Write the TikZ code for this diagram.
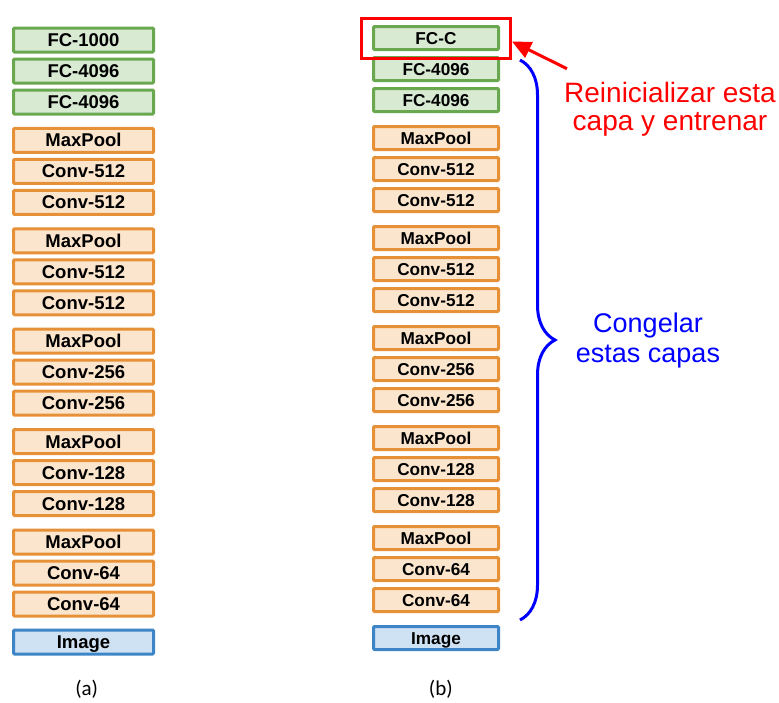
\documentclass[tikz,border=0pt]{standalone}
\usepackage{fontspec}
\setmainfont{Liberation Sans}
\newfontfamily\carlito{Carlito}
\usepackage{xcolor}
\usetikzlibrary{positioning}
\usetikzlibrary{arrows.meta,fit,decorations.pathreplacing}
\definecolor{fcfill}{HTML}{D9EAD3}
\definecolor{fcline}{HTML}{6AA84F}
\definecolor{convfill}{HTML}{FCE5CD}
\definecolor{convline}{HTML}{E69138}
\definecolor{imgfill}{HTML}{CFE2F3}
\definecolor{imgline}{HTML}{3D85C6}

\begin{document}
\begin{tikzpicture}[x=1pt,y=1pt,node distance=4pt,
    layer/.style={rectangle,rounded corners=1pt,line width=3pt,inner sep=0pt,
                  minimum width=140pt,minimum height=24pt,text height=13pt,text depth=0pt,
                  font=\fontsize{18.5}{19}\selectfont\bfseries},
    fc/.style={layer,draw=fcline,fill=fcfill},
    conv/.style={layer,draw=convline,fill=convfill},
    img/.style={layer,draw=imgline,fill=imgfill},
    redbox/.style={draw=red,line width=3pt,inner xsep=10.5pt,inner ysep=7pt},
    redarrow/.style={red,line width=3pt,-{Triangle[length=19pt,width=17pt]}},
    freeze/.style={blue,line width=3pt,decorate,decoration={brace,amplitude=35pt}},
    note/.style={align=center,inner sep=0pt},
    caption/.style={font=\carlito\fontsize{21}{21}\selectfont,anchor=base}]
\useasboundingbox (0,0) rectangle (779,-702);

% (a) original network
\node[fc] (a1) at (83.5,-40) {FC-1000};
\node[fc,below=of a1] (a2) {FC-4096};
\node[fc,below=of a2] (a3) {FC-4096};
\node[conv,below=11.4pt of a3] (a4) {MaxPool};
\node[conv,below=of a4] (a5) {Conv-512};
\node[conv,below=of a5] (a6) {Conv-512};
\node[conv,below=11.4pt of a6] (a7) {MaxPool};
\node[conv,below=of a7] (a8) {Conv-512};
\node[conv,below=of a8] (a9) {Conv-512};
\node[conv,below=11.4pt of a9] (a10) {MaxPool};
\node[conv,below=of a10] (a11) {Conv-256};
\node[conv,below=of a11] (a12) {Conv-256};
\node[conv,below=11.4pt of a12] (a13) {MaxPool};
\node[conv,below=of a13] (a14) {Conv-128};
\node[conv,below=of a14] (a15) {Conv-128};
\node[conv,below=11.4pt of a15] (a16) {MaxPool};
\node[conv,below=of a16] (a17) {Conv-64};
\node[conv,below=of a17] (a18) {Conv-64};
\node[img,below=11pt of a18] (a19) {Image};

% (b) transfer learning
\begin{scope}[node distance=5pt,
    layer/.append style={minimum width=125pt,minimum height=23pt,text height=12.3pt,
                         font=\fontsize{17.2}{18}\selectfont\bfseries}]
\node[fc] (b1) at (436,-38) {FC-C};
\node[fc,below=of b1] (b2) {FC-4096};
\node[fc,below=of b2] (b3) {FC-4096};
\node[conv,below=12pt of b3] (b4) {MaxPool};
\node[conv,below=of b4] (b5) {Conv-512};
\node[conv,below=of b5] (b6) {Conv-512};
\node[conv,below=12pt of b6] (b7) {MaxPool};
\node[conv,below=of b7] (b8) {Conv-512};
\node[conv,below=of b8] (b9) {Conv-512};
\node[conv,below=12pt of b9] (b10) {MaxPool};
\node[conv,below=of b10] (b11) {Conv-256};
\node[conv,below=of b11] (b12) {Conv-256};
\node[conv,below=12pt of b12] (b13) {MaxPool};
\node[conv,below=of b13] (b14) {Conv-128};
\node[conv,below=of b14] (b15) {Conv-128};
\node[conv,below=12pt of b15] (b16) {MaxPool};
\node[conv,below=of b16] (b17) {Conv-64};
\node[conv,below=of b17] (b18) {Conv-64};
\node[img,below=12pt of b18] (b19) {Image};
\end{scope}

\node[redbox,fit=(b1)] (reinit) {};
\node[note,red,anchor=north,font=\fontsize{28}{28}\selectfont] (txtreinit) at (670,-81.7)
      {Reinicializar esta\\capa y entrenar};
\draw[redarrow] ([shift={(3pt,13pt)}]txtreinit.north west) -- ([yshift=-3.5pt]reinit.east);

\draw[freeze] ([shift={(20pt,-4pt)}]b2.north east) -- ([shift={(20pt,-7pt)}]b18.south east);
\node[note,blue,anchor=north,font=\fontsize{27}{30}\selectfont] (txtfreeze) at (648,-313)
      {Congelar\\estas capas};

\node[caption] (capa) at (86.7,-695) {(a)};
\node[caption] (capb) at (440.8,-695) {(b)};
\end{tikzpicture}
\end{document}
